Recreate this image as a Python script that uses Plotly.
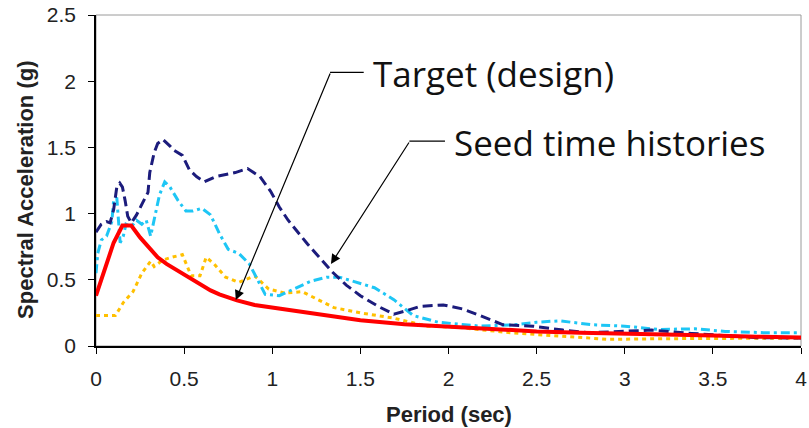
import plotly.graph_objects as go

# ---------------- data ----------------
target_x = [0, 0.05, 0.1, 0.15, 0.2, 0.25, 0.3, 0.35, 0.4, 0.45, 0.5, 0.55, 0.6, 0.65, 0.7,
            0.8, 0.9, 1.0, 1.1, 1.2, 1.3, 1.4, 1.5, 1.75, 2.0, 2.25, 2.5, 2.75, 3.0, 3.25,
            3.5, 3.75, 4.0]
target_y = [0.38, 0.58, 0.78, 0.91, 0.91, 0.82, 0.74, 0.67, 0.62, 0.58, 0.54, 0.5, 0.46, 0.42,
            0.39, 0.345, 0.31, 0.29, 0.27, 0.25, 0.235, 0.215, 0.195, 0.165, 0.145, 0.125,
            0.11, 0.1, 0.095, 0.085, 0.08, 0.07, 0.065]

seed1_x = [0, 0.03, 0.06, 0.08, 0.1, 0.118, 0.135, 0.15, 0.165, 0.18, 0.2, 0.23, 0.26, 0.28,
           0.295, 0.305, 0.33, 0.35, 0.38, 0.42, 0.44, 0.49, 0.53, 0.57, 0.615, 0.68, 0.72,
           0.79, 0.86, 0.93, 0.99, 1.04, 1.09, 1.15, 1.2, 1.28, 1.34, 1.42, 1.5, 1.6, 1.69,
           1.77, 1.84, 1.97, 2.08, 2.16, 2.31, 2.48, 2.65, 2.8, 2.96, 3.15, 3.38, 3.55, 3.75, 4.0]
seed1_y = [0.86, 0.92, 0.94, 0.93, 1.03, 1.2, 1.23, 1.2, 1.1, 0.98, 0.93, 0.99, 1.07, 1.12,
           1.16, 1.31, 1.46, 1.53, 1.56, 1.51, 1.48, 1.44, 1.33, 1.28, 1.24, 1.28, 1.29,
           1.31, 1.34, 1.28, 1.17, 1.05, 0.95, 0.85, 0.77, 0.65, 0.56, 0.46, 0.38, 0.3, 0.24,
           0.27, 0.3, 0.31, 0.28, 0.24, 0.16, 0.15, 0.12, 0.1, 0.11, 0.12, 0.095, 0.08, 0.063, 0.06]

seed2_x = [0, 0.01, 0.03, 0.06, 0.09, 0.1, 0.118, 0.137, 0.155, 0.17, 0.2, 0.23, 0.26, 0.285,
           0.31, 0.33, 0.36, 0.39, 0.42, 0.465, 0.51, 0.55, 0.6, 0.65, 0.7, 0.75, 0.81, 0.87,
           0.92, 0.96, 1.04, 1.15, 1.22, 1.31, 1.38, 1.43, 1.5, 1.58, 1.69, 1.8, 1.94, 2.18,
           2.37, 2.5, 2.63, 2.82, 3.0, 3.19, 3.4, 3.57, 3.8, 4.0]
seed2_y = [0.55, 0.7, 0.8, 0.83, 0.94, 1.1, 1.12, 0.78, 0.83, 0.92, 0.9, 0.95, 0.92, 0.95,
           0.83, 0.95, 1.14, 1.24, 1.2, 1.1, 1.02, 1.02, 1.04, 0.99, 0.85, 0.73, 0.70, 0.62,
           0.49, 0.39, 0.38, 0.45, 0.49, 0.52, 0.52, 0.5, 0.47, 0.44, 0.35, 0.23, 0.18, 0.15,
           0.16, 0.18, 0.19, 0.16, 0.15, 0.125, 0.13, 0.11, 0.1, 0.1]

seed3_x = [0, 0.11, 0.156, 0.21, 0.26, 0.31, 0.33, 0.38, 0.43, 0.49, 0.54, 0.59, 0.625, 0.67,
           0.735, 0.81, 0.9, 0.98, 1.07, 1.17, 1.26, 1.35, 1.5, 1.69, 1.88, 2.06, 2.35, 2.63,
           2.91, 3.19, 3.57, 4.0]
seed3_y = [0.23, 0.23, 0.33, 0.41, 0.55, 0.64, 0.6, 0.65, 0.67, 0.69, 0.53, 0.53, 0.67, 0.62,
           0.52, 0.48, 0.53, 0.43, 0.40, 0.41, 0.35, 0.29, 0.25, 0.21, 0.15, 0.14, 0.10, 0.075,
           0.05, 0.055, 0.06, 0.06]

x_ticks = [0, 0.5, 1, 1.5, 2, 2.5, 3, 3.5, 4]
x_labels = ["0", "0.5", "1", "1.5", "2", "2.5", "3", "3.5", "4"]
y_ticks = [0, 0.5, 1, 1.5, 2, 2.5]
y_labels = ["0", "0.5", "1", "1.5", "2", "2.5"]

label_target = "Target (design)"
label_seed = "Seed time histories"
x_title = "Period (sec)"
y_title = "Spectral Acceleration (g)"

# ---------------- figure ----------------
fig = go.Figure()
fig.add_trace(go.Scatter(x=seed3_x, y=seed3_y, mode="lines",
                         line=dict(color="#FFC000", width=3, dash="4px,4px"), showlegend=False))
fig.add_trace(go.Scatter(x=seed2_x, y=seed2_y, mode="lines",
                         line=dict(color="#1EC6F5", width=3, dash="9px,4px,3px,4px"), showlegend=False))
fig.add_trace(go.Scatter(x=seed1_x, y=seed1_y, mode="lines",
                         line=dict(color="#1C1C7C", width=3, dash="10px,5px"), showlegend=False))
fig.add_trace(go.Scatter(x=target_x, y=target_y, mode="lines",
                         line=dict(color="#FF0000", width=4), showlegend=False))

tick_font = dict(family="Liberation Sans, Arial, sans-serif", size=21, color="#222222")
fig.update_xaxes(range=[0, 4], tickvals=x_ticks, ticktext=x_labels, showline=True,
                 linecolor="black", linewidth=1.5, ticks="outside", ticklen=6,
                 tickcolor="black", showgrid=False, zeroline=False, tickfont=tick_font,
                 ticklabelstandoff=7, ticklabeloverflow="allow")
fig.update_yaxes(range=[0, 2.5], tickvals=y_ticks, ticktext=y_labels, showline=True,
                 linecolor="black", linewidth=1.5, ticks="outside", ticklen=6,
                 tickcolor="black", showgrid=False, zeroline=False, tickfont=tick_font,
                 ticklabelstandoff=8, ticklabeloverflow="allow")

# frame top/right
fig.add_shape(type="rect", xref="paper", yref="paper", x0=0, x1=1, y0=0, y1=1,
              line=dict(color="#9a9a9a", width=1), layer="below")

title_font = dict(family="Liberation Sans, Arial, sans-serif", size=22, color="#222222")
fig.add_annotation(text="<b>" + x_title + "</b>", xref="paper", yref="paper", x=0.5, y=-0.207,
                   xanchor="center", yanchor="middle", showarrow=False, font=title_font)
fig.add_annotation(text="<b>" + y_title + "</b>", xref="paper", yref="paper", x=-0.101, y=0.471,
                   xanchor="center", yanchor="middle", showarrow=False, textangle=-90,
                   font=title_font)

# leader lines and labels
ann_font = dict(family="Open Sans, Lato, sans-serif", size=35, color="#111111")
fig.add_annotation(x=0.793, y=0.347, ax=95, ay=-228, text="", showarrow=True,
                   arrowhead=2, arrowsize=1.6, arrowwidth=1.2, arrowcolor="black", standoff=0)
fig.add_annotation(x=1.333, y=0.619, ax=79, ay=-123, text="", showarrow=True,
                   arrowhead=2, arrowsize=1.6, arrowwidth=1.2, arrowcolor="black", standoff=0)
fig.add_shape(type="line", x0=1.328, x1=1.519, y0=2.066, y1=2.066,
              line=dict(color="black", width=1.2))
fig.add_shape(type="line", x0=1.778, x1=1.98, y0=1.548, y1=1.548,
              line=dict(color="black", width=1.2))
fig.add_annotation(text=label_target, x=1.558, y=2.06, xanchor="left", yanchor="middle",
                   showarrow=False, font=ann_font)
fig.add_annotation(text=label_seed, x=2.02, y=1.54, xanchor="left", yanchor="middle",
                   showarrow=False, font=ann_font)

fig.update_layout(width=809, height=428, margin=dict(l=96, r=2, t=15, b=82),
                  plot_bgcolor="white", paper_bgcolor="white")

fig.write_html("out.html")
